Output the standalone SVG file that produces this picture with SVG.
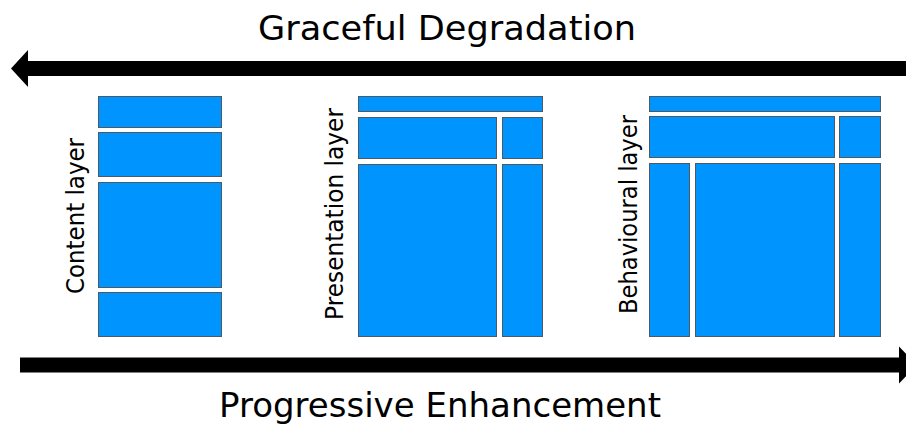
<svg xmlns="http://www.w3.org/2000/svg" width="906" height="425" viewBox="0 0 906 425">
<style>
.b{fill:#0094ff;stroke:#4d5a66;stroke-width:1}
.t{font-family:"DejaVu Sans","Liberation Sans",sans-serif;fill:#000;text-anchor:middle}
.arr{fill:#000;stroke:none}
</style>
<rect width="906" height="425" fill="#fff"/>
<g id="connectors">
<path class="arr" d="M906,61 L28,61 L28,50 L11,68.5 L28,87 L28,76 L906,76 Z"/>
<path class="arr" d="M20,357.5 L899,357.5 L899,346.5 L917,365 L899,383.5 L899,372.5 L20,372.5 Z"/>
</g>
<g id="title-top"><text class="t" x="447" y="40" font-size="34" textLength="378" lengthAdjust="spacingAndGlyphs">Graceful Degradation</text></g>
<g id="title-bottom"><text class="t" x="440" y="417" font-size="34" textLength="442" lengthAdjust="spacingAndGlyphs">Progressive Enhancement</text></g>
<g id="content-layer">
<text class="t" transform="translate(84,216) rotate(-90)" font-size="25" textLength="156" lengthAdjust="spacingAndGlyphs">Content layer</text>
<rect class="b" x="98.5" y="96.5" width="123" height="31"/>
<rect class="b" x="98.5" y="132.5" width="123" height="44"/>
<rect class="b" x="98.5" y="182.5" width="123" height="105"/>
<rect class="b" x="98.5" y="292.5" width="123" height="44"/>
</g>
<g id="presentation-layer">
<text class="t" transform="translate(343,214) rotate(-90)" font-size="25" textLength="212" lengthAdjust="spacingAndGlyphs">Presentation layer</text>
<rect class="b" x="358.5" y="96.5" width="184" height="15"/>
<rect class="b" x="358.5" y="117.5" width="138" height="41"/>
<rect class="b" x="502.5" y="117.5" width="40" height="41"/>
<rect class="b" x="358.5" y="164.5" width="138" height="172"/>
<rect class="b" x="502.5" y="164.5" width="40" height="172"/>
</g>
<g id="behavioural-layer">
<text class="t" transform="translate(637,214.5) rotate(-90)" font-size="25" textLength="199" lengthAdjust="spacingAndGlyphs">Behavioural layer</text>
<rect class="b" x="649.5" y="96.5" width="231" height="15"/>
<rect class="b" x="649.5" y="116.5" width="185" height="41"/>
<rect class="b" x="839.5" y="116.5" width="41" height="41"/>
<rect class="b" x="649.5" y="163.5" width="40" height="173"/>
<rect class="b" x="695.5" y="163.5" width="139" height="173"/>
<rect class="b" x="839.5" y="163.5" width="41" height="173"/>
</g>
</svg>
